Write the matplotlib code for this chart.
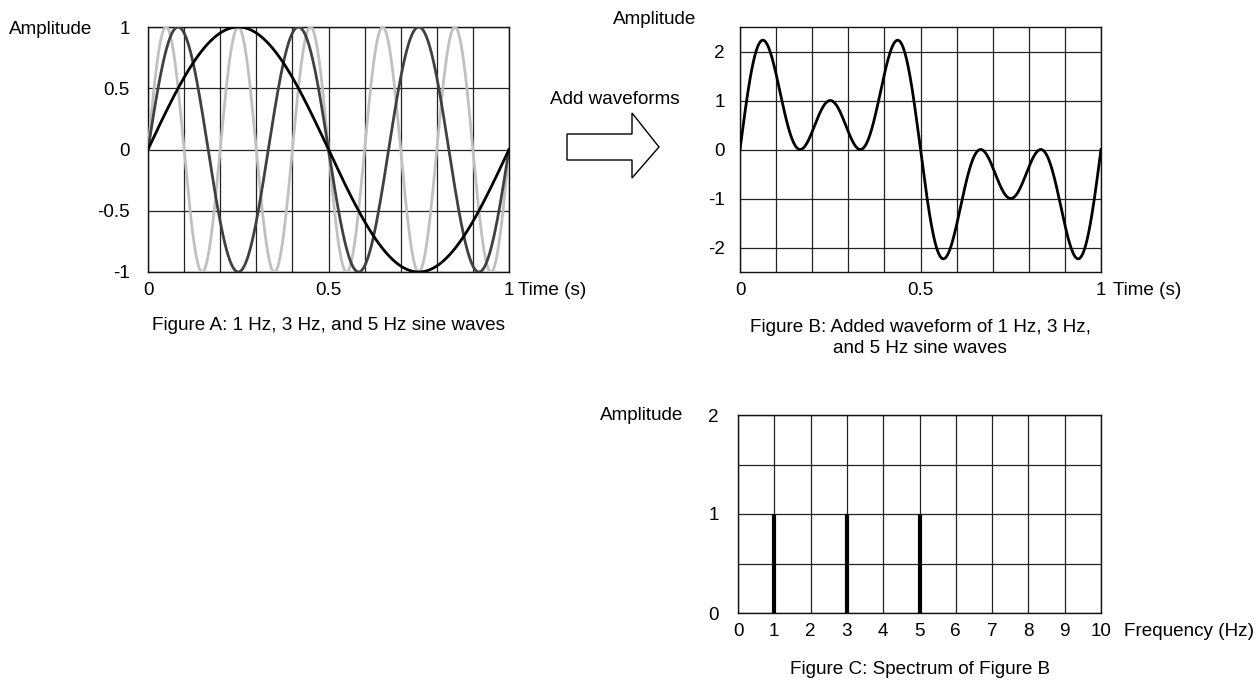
import numpy as np
import matplotlib
matplotlib.use("Agg")
import matplotlib.pyplot as plt
from matplotlib.patches import Polygon

# ======================
# DATA
# ======================
freqs_hz = [1, 3, 5]
amplitudes = [1, 1, 1]
wave_colors = ["#000000", "#404040", "#c0c0c0"]  # 1 Hz, 3 Hz, 5 Hz
spectrum_freqs = [1, 3, 5]
spectrum_amps = [1, 1, 1]

a_yticks = [-1, -0.5, 0, 0.5, 1]
a_yticklabels = ["-1", "-0.5", "0", "0.5", "1"]
b_yticks = [-2, -1, 0, 1, 2]
time_ticks = [0, 0.5, 1]
time_ticklabels = ["0", "0.5", "1"]
c_xticks = list(range(0, 11))
c_yticks = [0, 1, 2]

t = np.linspace(0, 1, 2000)

# ======================
# STYLE
# ======================
plt.rcParams["font.family"] = ["Liberation Sans", "DejaVu Sans"]
plt.rcParams["axes.unicode_minus"] = False
FS = 13.6
W, H = 1260, 684
grid_kw = dict(color="#222222", linewidth=0.9)

fig = plt.figure(figsize=(12.6, 6.84), dpi=100)


def px_axes(left, top, right, bottom):
    return fig.add_axes([left / W, 1 - bottom / H, (right - left) / W, (bottom - top) / H])


def style(ax):
    for s in ax.spines.values():
        s.set_color("#111111")
        s.set_linewidth(1.0)
    ax.tick_params(length=0, labelsize=FS)
    ax.set_axisbelow(True)


# ======================
# FIGURE A
# ======================
ax_a = px_axes(148, 27, 509, 272)
for f, amp, c in zip(freqs_hz[::-1], amplitudes[::-1], wave_colors[::-1]):
    ax_a.plot(t, amp * np.sin(2 * np.pi * f * t), color=c, lw=2.0, zorder=3)
ax_a.set_xlim(0, 1)
ax_a.set_ylim(-1, 1)
ax_a.set_xticks(np.arange(0, 1.01, 0.1), minor=True)
ax_a.set_xticks(time_ticks)
ax_a.set_xticklabels(time_ticklabels)
ax_a.set_yticks(a_yticks)
ax_a.set_yticklabels(a_yticklabels)
ax_a.grid(True, which="both", axis="x", **grid_kw)
ax_a.grid(True, which="major", axis="y", **grid_kw)
style(ax_a)
ax_a.tick_params(axis="y", pad=13)
ax_a.tick_params(axis="x", pad=7)
ax_a.tick_params(which="minor", length=0)

# ======================
# FIGURE B
# ======================
ax_b = px_axes(740, 27, 1101, 272)
total = sum(amp * np.sin(2 * np.pi * f * t) for f, amp in zip(freqs_hz, amplitudes))
ax_b.plot(t, total, color="black", lw=2.0, zorder=3)
ax_b.set_xlim(0, 1)
ax_b.set_ylim(-2.5, 2.5)
ax_b.set_xticks(np.arange(0, 1.01, 0.1), minor=True)
ax_b.set_xticks(time_ticks)
ax_b.set_xticklabels(time_ticklabels)
ax_b.set_yticks(b_yticks)
ax_b.grid(True, which="both", axis="x", **grid_kw)
ax_b.grid(True, which="major", axis="y", **grid_kw)
style(ax_b)
ax_b.tick_params(axis="y", pad=11)
ax_b.tick_params(axis="x", pad=7)
ax_b.tick_params(which="minor", length=0)

# ======================
# FIGURE C
# ======================
ax_c = px_axes(738, 415, 1101, 613)
ax_c.vlines(spectrum_freqs, 0, spectrum_amps, color="black", lw=3.0, zorder=3)
ax_c.set_xlim(0, 10)
ax_c.set_ylim(0, 2)
ax_c.set_xticks(c_xticks)
ax_c.set_yticks(c_yticks)
ax_c.set_yticks([0.5, 1.5], minor=True)
ax_c.grid(True, which="both", **grid_kw)
style(ax_c)
ax_c.tick_params(axis="y", pad=14)
ax_c.tick_params(axis="x", pad=7)
ax_c.tick_params(which="minor", length=0)


# ======================
# LABELS / ANNOTATIONS
# ======================
def ptext(x, y, s, **kw):
    fig.text(x / W, 1 - y / H, s, fontsize=FS, **kw)


ptext(9, 29, "Amplitude", ha="left", va="center")
ptext(613, 19, "Amplitude", ha="left", va="center")
ptext(600, 415, "Amplitude", ha="left", va="center")
ptext(518, 290, "Time (s)", ha="left", va="center")
ptext(1113, 290, "Time (s)", ha="left", va="center")
ptext(1124, 632, "Frequency (Hz)", ha="left", va="center")
ptext(615, 99, "Add waveforms", ha="center", va="center")

ptext(328, 326, "Figure A: 1 Hz, 3 Hz, and 5 Hz sine waves", ha="center", va="center")
ptext(920, 338, "Figure B: Added waveform of 1 Hz, 3 Hz,\nand 5 Hz sine waves",
      ha="center", va="center", linespacing=1.25)
ptext(920, 670, "Figure C: Spectrum of Figure B", ha="center", va="center")

# hollow block arrow
arrow_px = [(567, 134), (632, 134), (632, 113), (659, 147), (632, 178), (632, 160), (567, 160)]
arrow = Polygon([(x / W, 1 - y / H) for x, y in arrow_px], closed=True,
                facecolor="white", edgecolor="black", lw=1.0, transform=fig.transFigure)
fig.patches.append(arrow)

fig.savefig("out.png", dpi=100)
